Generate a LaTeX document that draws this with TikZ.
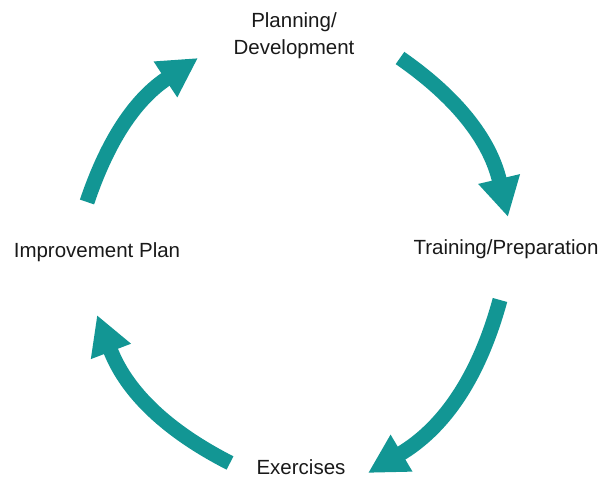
\documentclass[tikz,border=0pt]{standalone}
\usepackage{fontspec}
\setmainfont{Liberation Sans}
\usetikzlibrary{arrows.meta}
\definecolor{cycleteal}{RGB}{18,150,148}
\tikzstyle{stage} = [inner sep=0, 
font=\fontsize{20.5}{27}\selectfont, 
text=black!90]
\tikzstyle{cyclearrow} = [line width=15pt, draw=cycleteal, 
-{Triangle[width=40pt,length=39pt]}]

\begin{document}
\begin{tikzpicture}[x=1pt, y=1pt]
\useasboundingbox (0,0) rectangle (605,478);

\node (plan) [stage, align=center, anchor=north] at (294,466) {Planning/\\Development};
\node (train) [stage, anchor=base] at (506,223) {Training/Preparation};
\node (exer) [stage, anchor=base] at (301,3) {Exercises};
\node (improve) [stage, anchor=base] at (97,220) {Improvement Plan};

% arrow ends
\coordinate (s1) at (400,420);
\coordinate (e1) at (508,261);
\coordinate (s2) at (500,178);
\coordinate (e2) at (368,5);
\coordinate (s3) at (230,15);
\coordinate (e3) at (97,163);
\coordinate (s4) at (87,276);
\coordinate (e4) at (198,420);

\draw [cyclearrow] (s1) to[bend left=21] (e1);
\draw [cyclearrow] (s2) to[bend left=22] (e2);
\draw [cyclearrow] (s3) to[bend left=21] (e3);
\draw [cyclearrow] (s4) to[bend left=19] (e4);

\end{tikzpicture}
\end{document}
